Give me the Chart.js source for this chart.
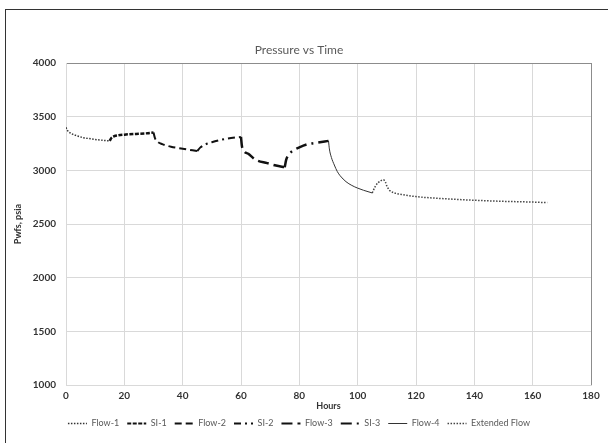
<!DOCTYPE html>
<html>
<head>
<meta charset="utf-8">
<script src="https://cdn.jsdelivr.net/npm/chart.js@4"></script>
<style>
  html, body { margin: 0; padding: 0; background: #fff; }
  #frame { position: absolute; left: 5px; top: 9px; width: 700px; height: 500px;
           border-left: 1px solid #333; border-top: 1px solid #333; }
  #wrap { position: absolute; left: 0; top: 0; width: 608px; height: 443px; }
</style>
</head>
<body>
<div id="frame"></div>
<div id="wrap"><canvas id="pressureChart" width="608" height="443"></canvas></div>
<script>
// Hours and bottom-hole flowing pressure (psia) for each test period
const flow1Hours = [0, 0.5, 1, 2, 3, 4, 6, 8, 10, 12, 15];
const flow1Psi = [3400, 3372, 3358, 3340, 3330, 3320, 3305, 3296, 3288, 3282, 3275];

const si1Hours = [15, 15.5, 16.5, 18, 20, 24, 28, 30];
const si1Psi = [3275, 3300, 3318, 3327, 3333, 3340, 3346, 3352];

const flow2Hours = [30, 30.5, 31.5, 33, 36, 40, 45];
const flow2Psi = [3352, 3300, 3265, 3245, 3220, 3202, 3180];

const si2Hours = [45, 46, 47.5, 50, 55, 60];
const si2Psi = [3180, 3212, 3238, 3262, 3295, 3312];

const flow3Hours = [60, 60.3, 61, 62.5, 65, 69, 72, 75];
const flow3Psi = [3312, 3230, 3180, 3155, 3100, 3068, 3045, 3030];

const si3Hours = [75, 75.5, 76.5, 78, 80, 83, 86, 90];
const si3Psi = [3030, 3100, 3150, 3188, 3215, 3245, 3258, 3275];

const flow4Hours = [90, 90.3, 91, 92, 93, 94, 96, 98, 100, 102, 105];
const flow4Psi = [3275, 3200, 3120, 3050, 2990, 2950, 2895, 2860, 2835, 2815, 2790];

const extHours = [105, 106, 107, 108, 108.8, 109.5, 110, 111, 112, 115, 120, 130, 140, 150, 160, 165];
const extPsi = [2790, 2850, 2885, 2905, 2912, 2892, 2855, 2812, 2796, 2776, 2756, 2736, 2722, 2712, 2705, 2700];

const xTicks = [0, 20, 40, 60, 80, 100, 120, 140, 160, 180];
const yTicks = [1000, 1500, 2000, 2500, 3000, 3500, 4000];

function points(hours, psi) {
  return hours.map((h, i) => ({ x: h, y: psi[i] }));
}

function series(label, hours, psi, dash, width, color) {
  return {
    label: label,
    data: points(hours, psi),
    borderColor: color,
    backgroundColor: color,
    borderWidth: width,
    borderDash: dash,
    pointRadius: 0,
    fill: false,
    cubicInterpolationMode: 'monotone'
  };
}

const ctx = document.getElementById('pressureChart').getContext('2d');

new Chart(ctx, {
  type: 'line',
  data: {
    datasets: [
      series('Flow-1', flow1Hours, flow1Psi, [1.5, 1.5], 1.5, '#333'),
      series('SI-1', si1Hours, si1Psi, [4, 1.5], 2.5, '#111'),
      series('Flow-2', flow2Hours, flow2Psi, [7, 4], 2, '#111'),
      series('SI-2', si2Hours, si2Psi, [7, 4, 2, 4], 2, '#111'),
      series('Flow-3', flow3Hours, flow3Psi, [11, 5], 2.5, '#111'),
      series('SI-3', si3Hours, si3Psi, [11, 5, 2, 5], 2.5, '#111'),
      series('Flow-4', flow4Hours, flow4Psi, [], 1, '#333'),
      series('Extended Flow', extHours, extPsi, [1.5, 1.5], 1.5, '#444')
    ]
  },
  options: {
    responsive: false,
    animation: false,
    layout: { padding: { left: 7, right: 17, top: 43, bottom: 5 } },
    plugins: {
      title: {
        display: true,
        text: 'Pressure vs Time',
        color: '#595959',
        font: { family: 'Lato', size: 12, weight: 'normal' },
        padding: { top: 0, bottom: 5.6 }
      },
      legend: {
        position: 'bottom',
        labels: {
          color: '#595959',
          font: { family: 'Lato', size: 9 },
          usePointStyle: true,
          pointStyleWidth: 19,
          boxHeight: 8,
          padding: 8,
          // draw each legend entry with its own dash pattern
          generateLabels: (chart) => chart.data.datasets.map((ds, i) => ({
            text: ds.label,
            fillStyle: ds.borderColor,
            strokeStyle: ds.borderColor,
            lineWidth: Math.min(ds.borderWidth, 2),
            lineDash: ds.borderDash,
            pointStyle: 'line',
            fontColor: '#595959',
            hidden: false,
            datasetIndex: i
          }))
        }
      },
      tooltip: { enabled: false }
    },
    scales: {
      x: {
        type: 'linear',
        min: 0,
        max: 180,
        afterBuildTicks: (axis) => { axis.ticks = xTicks.map(v => ({ value: v })); },
        ticks: { color: '#333', font: { family: 'Lato', size: 10, weight: 'bold' }, padding: 5 },
        grid: {
          color: (c) => (c.tick && c.tick.value === 180 ? '#8c8c8c' : '#d9d9d9'),
          drawTicks: false
        },
        border: { color: '#d9d9d9' },
        title: {
          display: true,
          text: 'Hours',
          color: '#333',
          font: { family: 'Lato', size: 9, weight: 'bold' },
          padding: { top: -7, bottom: 0 }
        }
      },
      y: {
        min: 1000,
        max: 4000,
        afterBuildTicks: (axis) => { axis.ticks = yTicks.map(v => ({ value: v })); },
        ticks: {
          color: '#333',
          font: { family: 'Lato', size: 10, weight: 'bold' },
          padding: 10,
          callback: (v) => String(v)
        },
        grid: {
          color: (c) => (c.tick && c.tick.value === 4000 ? '#8c8c8c' : '#d9d9d9'),
          drawTicks: false
        },
        border: { color: '#d9d9d9' },
        title: {
          display: true,
          text: 'Pwfs, psia',
          color: '#333',
          font: { family: 'Lato', size: 9, weight: 'bold' },
          padding: { top: 6, bottom: -1 }
        }
      }
    }
  }
});
</script>
</body>
</html>
